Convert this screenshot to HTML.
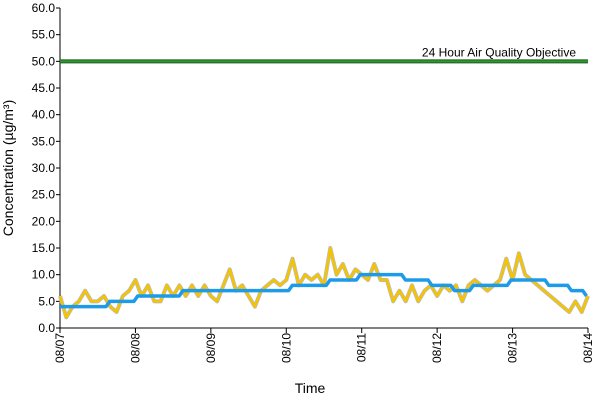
<!DOCTYPE html>
<html><head><meta charset="utf-8"><style>
body{margin:0;background:#fff;font-family:"Liberation Sans",sans-serif}
text{font-family:"Liberation Sans",sans-serif;fill:#000}
</style></head><body>
<svg width="600" height="400" viewBox="0 0 600 400">
<g id="axes"></g><g id="series"></g>
</svg>
<script>
const yTicks=[0,5,10,15,20,25,30,35,40,45,50,55,60];
const xLabels=["08/07","08/08","08/09","08/10","08/11","08/12","08/13","08/14"];
const pm=[6,2,4,5,7,5,5,6,4,3,6,7,
9,6,8,5,5,8,6,8,6,8,6,8,
6,5,8,11,7,8,6,4,7,8,9,8,
9,13,8,10,9,10,8,15,10,12,9,11,
10,9,12,9,9,5,7,5,8,5,7,8,
6,8,7,8,5,8,9,8,7,8,9,13,
9,14,10,9,8,7,6,5,4,3,5,3,6];
const avgStart=[0,0.63,1.0,1.6,2.05,3.05,3.55,3.95,4.55,4.9,5.2,5.45,5.95,6.45,6.75,6.95];
const avgLevel=[4,5,6,7,7,8,9,10,9,8,7,8,9,8,7,6];
const objective=50;
const X0=60,X1=588,Y0=328,Y1=8;
const sx=d=>X0+d*(X1-X0)/7, sy=v=>Y0-v*(Y0-Y1)/60;
const NS="http://www.w3.org/2000/svg";
function mk(t,a,p){const e=document.createElementNS(NS,t);for(const k in a)e.setAttribute(k,a[k]);p.appendChild(e);return e;}
const ax=document.getElementById('axes'),se=document.getElementById('series');
let e;
yTicks.forEach(v=>{
 e=mk('line',{x1:X0-4,x2:X0,y1:sy(v),y2:sy(v),stroke:'#000'},ax);
 
 e=mk('text',{x:X0-5,y:sy(v)+4,'text-anchor':'end','font-size':12},ax);e.textContent=v.toFixed(1);
 
});
xLabels.forEach((l,i)=>{
 e=mk('line',{x1:sx(i),x2:sx(i),y1:Y0,y2:Y0+5,stroke:'#000'},ax);
 
 e=mk('text',{transform:`translate(${sx(i)+4},${Y0+5}) rotate(-90)`,'text-anchor':'end','font-size':12},ax);e.textContent=l;
 
});
e=mk('line',{x1:X0,x2:X0,y1:Y1,y2:Y0,stroke:'#000'},ax);

e=mk('line',{x1:X0,x2:X1,y1:Y0,y2:Y0,stroke:'#000'},ax);

e=mk('text',{x:310,y:393,'text-anchor':'middle','font-size':14},ax);e.textContent='Time';

e=mk('text',{transform:'translate(13,168) rotate(-90)','text-anchor':'middle','font-size':14},ax);e.textContent='Concentration (µg/m³)';

// objective
e=mk('line',{x1:X0,x2:X1,y1:sy(objective),y2:sy(objective),stroke:'#1f5a1f','stroke-width':4},se);

e=mk('line',{x1:X0,x2:X1,y1:sy(objective),y2:sy(objective),stroke:'#2e9a2e','stroke-width':2},se);

e=mk('text',{x:576,y:sy(objective)-5,'text-anchor':'end','font-size':12},se);e.textContent='24 Hour Air Quality Objective';

// hourly series
const pts=pm.map((v,i)=>sx(i*7/(pm.length-1))+','+sy(v)).join(' ');
e=mk('polyline',{points:pts,fill:'none',stroke:'#bbb','stroke-width':4,'stroke-linejoin':'round'},se);

e=mk('polyline',{points:pts,fill:'none',stroke:'#f5c400','stroke-width':2.5,'stroke-linejoin':'round'},se);

// running avg step
let bp=[];
avgStart.forEach((s,i)=>{const end=i<avgStart.length-1?avgStart[i+1]:7;
 bp.push(sx(s+(i?0.03:0))+','+sy(avgLevel[i]));bp.push(sx(end-0.02)+','+sy(avgLevel[i]));});
e=mk('polyline',{points:bp.join(' '),fill:'none',stroke:'#1e9be8','stroke-width':3.5,'stroke-linejoin':'round'},se);

</script>
</body></html>
